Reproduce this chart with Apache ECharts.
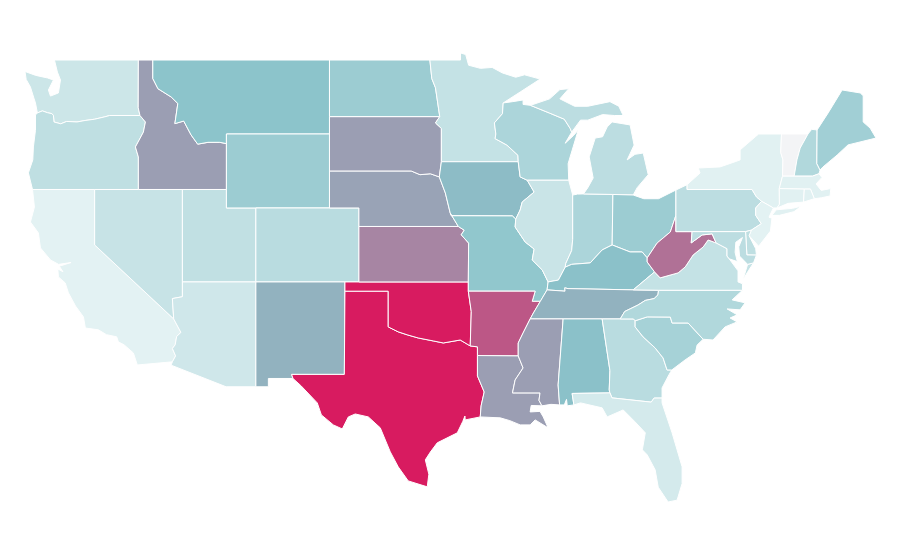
<!DOCTYPE html>
<html lang="en">
<head>
    <meta charset="UTF-8">
    <title>US states</title>
    <script src="https://cdn.jsdelivr.net/npm/echarts@6/dist/echarts.min.js"></script>
</head>
<body style="padding: 0; margin: 0; background: #fff">
    <div id="main" style="width: 900px; height: 560px;"></div>
<script>
    // values, 0 - 100
    var stateNames = ['Washington','Oregon','California','Nevada','Idaho','Montana','Wyoming','Utah','Arizona','Colorado',
        'New Mexico','North Dakota','South Dakota','Nebraska','Kansas','Oklahoma','Texas','Minnesota','Iowa','Missouri',
        'Arkansas','Louisiana','Wisconsin','Illinois','Michigan','Indiana','Ohio','Kentucky','Tennessee','Mississippi',
        'Alabama','Georgia','Florida','South Carolina','North Carolina','Virginia','West Virginia','Pennsylvania','New York','Vermont',
        'New Hampshire','Maine','Massachusetts','Connecticut','Rhode Island','New Jersey','Delaware','Maryland'];
    var stateValues = [42,47,33,44,74,66,60,46,41,49,
        70,60,74,73,79,100,100,45,68,64,
        88,74,54,43,48,54,60,67,70,74,
        67,49,39,56,52,45,83,48,34,0,
        52,58,34,34,34,33,47,48];
    var colorStops = ['#f3f4f6','#e3f2f3','#8ac3ca','#d81b60'];

    // state outlines, "lon,lat" rings; | starts another polygon
    var outlines = {
        'Washington': '-122.73,49 -117.03,49 -117.04,46.42 -116.92,46 -118.98,46 -119.3,45.93 -120,45.8 -120.65,45.73 -121.2,45.65 -121.9,45.68 -122.3,45.55 -122.76,45.65 -122.8,46 -122.9,46.1 -123.2,46.15 -123.55,46.25 -123.89,46.14 -124.02,46.68 -124.15,47 -124.36,47.54 -124.65,47.95 -124.73,48.38 -124,48.17 -123.2,48.03 -122.8,47.92 -123.14,47.38 -123,47.05 -122.46,47.22 -122.32,47.92 -122.53,48.35',
        'Oregon': '-123.89,46.14 -123.55,46.25 -123.2,46.15 -122.9,46.1 -122.8,46 -122.76,45.65 -122.3,45.55 -121.9,45.68 -121.2,45.65 -120.65,45.73 -120,45.8 -119.3,45.93 -118.98,46 -116.92,46 -116.55,45.65 -116.69,45.1 -117.23,44.3 -117.03,43.76 -117.03,42 -124.22,42 -124.5,42.9 -124.2,43.6 -124.16,44.3 -124.02,45.2 -124.02,46.03',
        'California': '-124.22,42 -120,42 -120,39 -114.63,35 -114.14,34.27 -114.43,34.05 -114.53,33.6 -114.72,33.4 -114.5,33 -114.72,32.68 -117.1,32.51 -117.37,33.16 -118,33.6 -118.39,33.76 -118.5,34.03 -119.2,34.15 -119.74,34.41 -120.63,34.51 -120.76,35.11 -121.3,35.7 -121.78,36.41 -122,36.95 -122.46,37.27 -122.5,37.7 -122.15,37.55 -122.4,37.85 -121.6,38.05 -122.45,37.95 -123,38.19 -123.68,38.84 -123.82,39.65 -124.36,40.24 -124.09,41.05',
        'Nevada': '-120,42 -114.04,42 -114.04,36.2 -114.72,36.1 -114.63,35 -120,39',
        'Utah': '-114.04,42 -111.05,42 -111.05,41 -109.05,41 -109.05,37 -114.04,37',
        'Arizona': '-114.04,37 -109.05,37 -109.05,31.33 -111.07,31.33 -114.81,32.5 -114.72,32.68 -114.5,33 -114.72,33.4 -114.53,33.6 -114.43,34.05 -114.14,34.27 -114.63,35 -114.72,36.1 -114.04,36.2',
        'Idaho': '-117.03,49 -116.05,49 -116.05,48 -115.7,47.45 -114.8,47 -114.35,46.65 -114.55,45.56 -113.95,45.7 -113.45,44.95 -113,44.45 -112.3,44.55 -111.5,44.55 -111.05,44.48 -111.05,42 -117.03,42 -117.03,43.76 -117.23,44.3 -116.69,45.1 -116.55,45.65 -116.92,46 -117.04,46.42',
        'Montana': '-116.05,49 -104.05,49 -104.05,45 -111.05,45 -111.05,44.48 -111.5,44.55 -112.3,44.55 -113,44.45 -113.45,44.95 -113.95,45.7 -114.55,45.56 -114.35,46.65 -114.8,47 -115.7,47.45 -116.05,48',
        'Wyoming': '-111.05,45 -104.05,45 -104.05,41 -111.05,41',
        'Colorado': '-109.05,41 -102.05,41 -102.05,37 -109.05,37',
        'New Mexico': '-109.05,37 -103,37 -103.04,32 -106.62,32 -106.53,31.78 -108.2,31.78 -108.2,31.33 -109.05,31.33',
        'Texas': '-103,36.5 -100.06,36.5 -100.06,34.57 -99.38,34.3 -98.77,34.14 -98.02,33.97 -97,33.81 -96.32,33.7 -95.17,33.86 -94.49,33.54 -94,33.49 -94,33.02 -94,31.92 -93.54,31.05 -93.75,30.3 -93.81,29.7 -94.83,29.54 -94.85,29.75 -95,29.45 -95.37,28.84 -96.73,28.3 -97.2,27.8 -97.54,27.38 -97.3,26.6 -97.41,25.92 -98.7,26.24 -99.38,27 -99.92,27.81 -100.6,29.11 -101.41,29.7 -102.3,29.86 -102.77,29.7 -103.18,29.05 -103.79,29.27 -104.6,29.81 -104.88,30.46 -106,31.4 -106.53,31.78 -106.62,32 -103.04,32',
        'Oklahoma': '-103,37 -94.62,37 -94.62,36.5 -94.42,35.4 -94.49,33.54 -95.17,33.86 -96.32,33.7 -97,33.81 -98.02,33.97 -98.77,34.14 -99.38,34.3 -100.06,34.57 -100.06,36.5 -103,36.5',
        'Kansas': '-102.05,40 -95.3,40 -94.9,39.8 -95.1,39.55 -94.6,39.1 -94.62,37 -102.05,37',
        'Nebraska': '-104.05,43 -98.5,43 -97.9,42.8 -97.2,42.85 -96.59,42.68 -96.18,41.81 -95.85,40.73 -95.3,40 -102.05,40 -102.05,41 -104.05,41',
        'South Dakota': '-104.05,45.94 -96.56,45.94 -96.85,45.6 -96.45,45.3 -96.45,43.5 -96.59,42.68 -97.2,42.85 -97.9,42.8 -98.5,43 -104.05,43',
        'North Dakota': '-104.05,49 -97.23,49 -97.1,48 -96.85,47.5 -96.56,45.94 -104.05,45.94',
        'Minnesota': '-97.23,49 -95.15,49 -95.15,49.38 -94.8,49.3 -94.6,48.72 -93.8,48.55 -93,48.6 -92.3,48.3 -91.4,48.07 -90.8,48.2 -89.74,47.97 -91.1,47.27 -92.25,46.68 -92.3,46.1 -92.85,45.6 -92.75,45 -92.8,44.75 -92,44.4 -91.25,43.85 -91.23,43.5 -96.45,43.5 -96.45,45.3 -96.85,45.6 -96.56,45.94 -96.85,47.5 -97.1,48',
        'Iowa': '-96.45,43.5 -91.23,43.5 -91.1,42.68 -90.62,42.5 -90.15,41.86 -90.96,41.32 -91.1,40.89 -91.4,40.4 -91.63,40.57 -95.77,40.58 -95.85,40.73 -96.18,41.81 -96.59,42.68',
        'Missouri': '-95.77,40.58 -91.63,40.57 -91.4,40.4 -91.44,39.97 -90.76,39.16 -90.15,38.78 -90.28,38.19 -89.6,37.65 -89.2,37 -89.27,36.57 -89.73,35.95 -90.28,35.95 -90.08,36.5 -94.62,36.5 -94.62,37 -94.6,39.1 -95.1,39.55 -94.9,39.8 -95.3,40 -95.85,40.73',
        'Arkansas': '-94.62,36.5 -90.08,36.5 -90.28,35.95 -89.73,35.95 -90.2,35.32 -90.42,35 -90.9,34.24 -91.23,33.7 -91.23,33 -94,33.02 -94,33.49 -94.49,33.54 -94.42,35.4',
        'Louisiana': '-94,33.02 -91.23,33 -90.9,32.35 -91.44,31.7 -91.62,31 -89.75,31 -89.82,30.6 -89.62,30.3 -90.35,30.32 -90.42,29.97 -89.75,30 -89.53,29.7 -89.2,29.11 -90.08,29.54 -90.42,29.27 -91.1,29.27 -91.8,29.5 -92.45,29.65 -93.81,29.7 -93.75,30.3 -93.54,31.05 -94,31.92',
        'Wisconsin': '-92.25,46.68 -91.6,46.75 -90.9,46.84 -90.9,46.6 -90.4,46.55 -89.1,46.13 -88.1,45.8 -87.7,45.3 -87.6,45.1 -88.04,44.5 -87.5,44.9 -87.16,45.2 -87.5,44.3 -87.84,43.4 -87.8,42.5 -90.62,42.5 -91.1,42.68 -91.23,43.5 -91.25,43.85 -92,44.4 -92.8,44.75 -92.75,45 -92.85,45.6 -92.3,46.1',
        'Illinois': '-90.62,42.5 -87.8,42.5 -87.53,41.7 -87.53,39.3 -87.6,38.7 -88,38 -88.04,37.8 -88.5,37.1 -89.2,37 -89.6,37.65 -90.28,38.19 -90.15,38.78 -90.76,39.16 -91.44,39.97 -91.4,40.4 -91.1,40.89 -90.96,41.32 -90.15,41.86',
        'Indiana': '-87.53,41.7 -87.2,41.75 -86.8,41.76 -84.8,41.73 -84.85,39 -85.53,38.73 -86.34,38.03 -87.6,37.95 -88.04,37.8 -88,38 -87.6,38.7 -87.53,39.3',
        'Michigan': '-86.8,41.76 -84.8,41.73 -83.42,41.7 -83.15,42.1 -82.4,42.8 -82.74,43.97 -83.3,43.9 -83.83,43.6 -83.36,44.4 -83.63,45.49 -84.85,45.65 -85.19,45.38 -85.5,44.85 -86,44.78 -86.41,43.76 -86.14,42.62 -86.5,42.1|-90.4,46.55 -89.1,46.9 -88.4,47.4 -87.8,47.45 -88.4,46.9 -87.4,46.5 -86.5,46.5 -85,46.75 -84.4,46.5 -84.1,46 -84.7,46 -85.5,46.05 -86.5,45.75 -87,45.75 -87.6,45.1 -87.7,45.3 -88.1,45.8 -89.1,46.13',
        'Ohio': '-84.8,41.73 -83.42,41.7 -82.7,41.5 -81.7,41.5 -80.52,41.97 -80.52,40.6 -80.9,39.7 -81.8,39.1 -82.47,38.3 -82.81,38.62 -83.63,38.62 -84.85,39',
        'Kentucky': '-89.27,36.57 -89.2,37 -88.5,37.1 -88.04,37.8 -87.6,37.95 -86.34,38.03 -85.53,38.73 -84.85,39 -83.63,38.62 -82.81,38.62 -82.47,38.3 -82.47,38.08 -81.97,37.54 -83.42,36.57 -87.85,36.64 -88.07,36.68 -88.05,36.5',
        'Tennessee': '-90.42,35 -90.2,35.32 -89.73,35.95 -89.27,36.57 -88.05,36.5 -88.07,36.68 -87.85,36.64 -83.42,36.57 -81.7,36.55 -81.74,36.3 -82,36.1 -82.6,36 -83.1,35.75 -84,35.4 -84.3,35 -85.53,35 -88.18,35',
        'Mississippi': '-90.42,35 -88.18,35 -88.52,31.43 -88.42,30.35 -89,30.38 -89.62,30.3 -89.82,30.6 -89.75,31 -91.62,31 -91.44,31.7 -90.9,32.35 -91.23,33 -91.23,33.7 -90.9,34.24',
        'Alabama': '-88.18,35 -85.53,35 -85,32.2 -85.05,31.16 -85,31 -87.57,30.97 -87.45,30.35 -87.9,30.3 -87.95,30.65 -88.1,30.35 -88.42,30.35 -88.52,31.43',
        'Georgia': '-85.53,35 -84.3,35 -83.4,35 -83.29,34.9 -83.29,34.57 -82.75,34.03 -81.93,33.43 -81.39,32.89 -81.12,32.24 -80.8,32.24 -81,31.97 -81.46,31.27 -81.46,30.72 -82,30.72 -82.2,30.5 -84.86,30.73 -85,31 -85.05,31.16 -85,32.2',
        'Florida': '-87.57,30.97 -85,31 -84.86,30.73 -82.2,30.5 -82,30.72 -81.46,30.72 -81.46,30.46 -80.78,28.84 -80.1,27 -80.1,26.1 -80.44,25.2 -81.05,25.1 -81.72,25.9 -81.93,26.84 -82.47,27.65 -82.8,27.92 -82.6,28.84 -83.29,29.43 -84.1,30.08 -85.19,29.7 -85.53,30.19 -87,30.46 -87.45,30.35',
        'South Carolina': '-83.29,34.9 -82.47,35.11 -80.9,35.1 -80.78,34.78 -79.69,34.78 -78.67,33.9 -79.08,33.59 -79.2,33.16 -79.9,32.78 -80.8,32.24 -81.12,32.24 -81.39,32.89 -81.93,33.43 -82.75,34.03 -83.29,34.57',
        'North Carolina': '-84.3,35 -84,35.4 -83.1,35.75 -82.6,36 -82,36.1 -81.74,36.3 -81.7,36.55 -76,36.55 -76.7,36.03 -75.82,35.87 -76.16,35.49 -77.04,35.54 -76.36,35.22 -76.84,35.05 -76.36,34.84 -77.18,34.57 -78,33.86 -78.67,33.9 -79.69,34.78 -80.78,34.78 -80.9,35.1 -82.47,35.11 -83.29,34.9 -83.4,35',
        'Virginia': '-83.42,36.57 -81.7,36.55 -76,36.55 -76,36.9 -76.3,37 -76.3,37.6 -76.9,38.25 -77.05,38.4 -77.05,38.8 -77.79,39.11 -78.33,39.27 -78.67,38.89 -79.35,38.46 -79.89,37.81 -80.37,37.49 -81.59,37.22 -81.97,37.54|-75.25,38.03 -75.65,37.95 -75.95,37.15 -75.6,37.6',
        'West Virginia': '-82.47,38.08 -82.47,38.3 -81.8,39.1 -80.9,39.7 -80.52,40.6 -80.52,39.72 -79.42,39.72 -79.48,39.11 -78.74,39.54 -78.06,39.6 -77.79,39.11 -78.33,39.27 -78.67,38.89 -79.35,38.46 -79.89,37.81 -80.37,37.49 -81.59,37.22 -81.97,37.54',
        'Pennsylvania': '-80.52,41.97 -79.76,42.26 -79.76,42 -75.35,42 -75.05,41.6 -74.7,41.36 -75.1,41 -75.1,40.6 -74.72,40.15 -75.4,39.8 -75.79,39.72 -80.52,39.72 -80.52,40.6',
        'New York': '-79.76,42 -79.76,42.26 -78.88,42.89 -79,43.16 -77.52,43.22 -76.5,43.5 -76.16,43.6 -76.16,44.14 -75.14,44.84 -74.9,45 -73.35,45 -73.4,44 -73.25,43.6 -73.28,42.72 -73.5,42.05 -73.49,41.2 -73.65,41 -73.9,41 -74.7,41.36 -75.05,41.6 -75.35,42|-74,40.6 -73.7,40.9 -72.6,40.98 -72,41.1 -72.5,40.8 -73.5,40.6',
        'Vermont': '-73.35,45 -71.55,45 -72.08,44.24 -72.3,43.6 -72.49,42.72 -73.28,42.72 -73.25,43.6 -73.4,44',
        'New Hampshire': '-71.55,45 -71.3,45.25 -70.93,45.22 -70.95,43.4 -70.73,43.05 -70.8,42.85 -71.25,42.72 -72.49,42.72 -72.3,43.6 -72.08,44.24',
        'Maine': '-70.93,45.22 -70.18,46.14 -69.23,47.38 -68,47.22 -67.8,47.07 -67.8,45.65 -67.33,45.32 -66.93,44.78 -68.83,44.41 -69.57,43.86 -70.53,43.22 -70.73,43.05 -70.95,43.4',
        'Massachusetts': '-73.5,42.05 -73.28,42.72 -72.49,42.72 -71.25,42.72 -70.8,42.85 -70.6,42.65 -71,42.3 -70.65,41.95 -70,42.05 -70.05,41.65 -70.65,41.55 -71.12,41.5 -71.38,42.02 -71.8,42.02',
        'Connecticut': '-73.5,42.05 -71.8,42.02 -71.85,41.32 -72.9,41.25 -73.65,41 -73.49,41.2',
        'Rhode Island': '-71.8,42.02 -71.38,42.02 -71.12,41.5 -71.85,41.32',
        'New Jersey': '-74.7,41.36 -73.9,41 -74.2,40.5 -74,40.45 -74.1,39.75 -74.9,38.93 -75.55,39.5 -75.4,39.8 -74.72,40.15 -75.1,40.6 -75.1,41',
        'Delaware': '-75.79,39.72 -75.4,39.8 -75.55,39.5 -75.1,38.8 -75.05,38.45 -75.7,38.46',
        'Maryland': '-79.42,39.72 -75.79,39.72 -75.7,38.46 -75.05,38.45 -75.25,38.03 -75.65,37.95 -76.2,38.4 -76.25,38.9 -76,39.4 -76.45,39.15 -76.5,38.6 -76.35,38.1 -76.9,38.25 -77.05,38.4 -77.05,38.8 -77.79,39.11 -78.06,39.6 -78.74,39.54 -79.48,39.11'
    };

    function ring(s) {
        return s.trim().split(' ').map(function (p) {
            return p.split(',').map(Number);
        });
    }
    var features = Object.keys(outlines).map(function (name) {
        var polys = outlines[name].split('|').map(function (part) {
            return [ring(part)];
        });
        return {
            type: 'Feature',
            properties: {name: name},
            geometry: {type: 'MultiPolygon', coordinates: polys}
        };
    });
    echarts.registerMap('USA', {type: 'FeatureCollection', features: features});

    var myChart = echarts.init(document.getElementById('main'));
    var data = stateNames.map(function (name, i) {
        return {name: name, value: stateValues[i]};
    });
    myChart.setOption({
        animation: false,
        backgroundColor: '#fff',
        visualMap: {
            show: false,
            min: 0,
            max: 100,
            inRange: {color: colorStops}
        },
        series: [{
            type: 'map',
            map: 'USA',
            roam: false,
            aspectScale: 0.796,
            left: 25,
            top: 53,
            width: 851,
            height: 449,
            label: {show: false},
            itemStyle: {borderColor: '#fff', borderWidth: 1},
            data: data
        }]
    });
</script>
</body>
</html>
